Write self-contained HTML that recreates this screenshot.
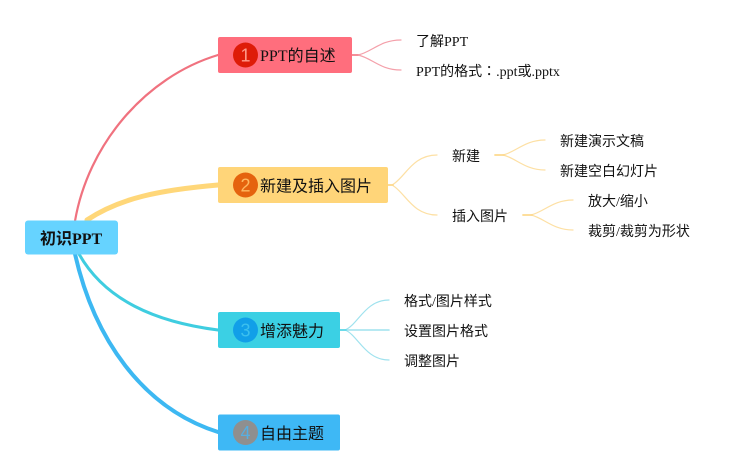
<!DOCTYPE html>
<html>
<head>
<meta charset="utf-8">
<style>
html,body{margin:0;padding:0;background:#fff;}
svg{display:block;}
text{font-family:"Liberation Serif","Noto Sans CJK SC",serif;fill:#111;}
.s{font-size:14px;}
.m{font-size:16px;}
.n{font-family:"Liberation Sans",sans-serif;font-size:18px;text-anchor:middle;}
path{fill:none;stroke-linecap:round;}
</style>
</head>
<body>
<svg width="750" height="475" viewBox="0 0 750 475" xmlns="http://www.w3.org/2000/svg">
<rect width="750" height="475" fill="#fff"/>

<!-- main branches -->
<path d="M75 221C88 145 145 77 218 55" stroke="#f0727f" stroke-width="2.2"/>
<path d="M87 220C120 198 160 190 218 185" stroke="#ffd779" stroke-width="5"/>
<path d="M79 254C105 300 155 322 218 330" stroke="#3fcde0" stroke-width="3"/>
<path d="M75 254C94 338 142 408 218 432" stroke="#3db8f2" stroke-width="4"/>

<!-- node 1 children -->
<g stroke="#f4a0aa" stroke-width="1.2">
<path d="M352 55H358C372 52 380 40 401 40"/>
<path d="M352 55H358C372 58 380 70 401 70"/>
</g>
<path d="M352 55H358" stroke="#f4848f" stroke-width="1.8"/>
<!-- node 2 children -->
<g stroke="#fde0a4" stroke-width="1.2">
<path d="M388 185H392C405 178 412 155 437 155"/>
<path d="M388 185H392C405 192 412 215 437 215"/>
<path d="M503 155C516 152 525 140 545 140"/>
<path d="M503 155C516 158 525 170 545 170"/>
<path d="M531 215C544 212 553 200 573 200"/>
<path d="M531 215C544 218 553 230 573 230"/>
</g>
<path d="M388 185H393M495 155H504M523 215H532" stroke="#fdd98e" stroke-width="1.8"/>
<!-- node 3 children -->
<g stroke="#9fe2ee" stroke-width="1.2">
<path d="M345 330C358 325 365 300 389 300"/>
<path d="M340 330H389" stroke-width="1.6"/>
<path d="M345 330C358 335 365 360 389 360"/>
</g>
<path d="M340 330H346" stroke="#5fd8e8" stroke-width="1.8"/>

<!-- nodes -->
<rect x="25" y="220.500" width="93" height="34" rx="3" fill="#66d3ff"/>
<rect x="218" y="37" width="134" height="36" rx="2" fill="#ff6e7d"/>
<rect x="218" y="167" width="170" height="36" rx="2" fill="#ffd579"/>
<rect x="218" y="312" width="122" height="36" rx="2" fill="#3bd0e4"/>
<rect x="218" y="414.500" width="122" height="36" rx="2" fill="#3eb8f5"/>

<!-- markers -->
<circle cx="245.500" cy="55" r="12.500" fill="#de1c08"/>
<circle cx="245.500" cy="185" r="12.500" fill="#e5630e"/>
<circle cx="245.500" cy="330" r="12.500" fill="#119fe8"/>
<circle cx="245.500" cy="432.500" r="12.500" fill="#8f8f8f"/>
<text class="n" x="245.500" y="61.500" style="fill:#ff9a8a">1</text>
<text class="n" x="245.500" y="191.500" style="fill:#ffb860">2</text>
<text class="n" x="245.500" y="336.500" style="fill:#3cc0ee">3</text>
<text class="n" x="245.500" y="439" style="fill:#58aee0">4</text>

<!-- labels -->
<text x="40" y="244" font-size="16" font-weight="bold">初识PPT</text>
<text class="m" x="260" y="61">PPT的自述</text>
<text class="m" x="260" y="191.500">新建及插入图片</text>
<text class="m" x="260" y="336.500">增添魅力</text>
<text class="m" x="260" y="439">自由主题</text>

<text class="s" x="416" y="46">了解PPT</text>
<text class="s" x="416" y="76">PPT的格式<tspan style="font-family:'Noto Sans CJK TC',sans-serif">：</tspan>.ppt或.pptx</text>
<text class="s" x="452" y="161">新建</text>
<text class="s" x="452" y="221">插入图片</text>
<text class="s" x="560" y="146">新建演示文稿</text>
<text class="s" x="560" y="176">新建空白幻灯片</text>
<text class="s" x="588" y="206">放大/缩小</text>
<text class="s" x="588" y="236">裁剪/裁剪为形状</text>
<text class="s" x="404" y="306">格式/图片样式</text>
<text class="s" x="404" y="336">设置图片格式</text>
<text class="s" x="404" y="366">调整图片</text>
</svg>
</body>
</html>
